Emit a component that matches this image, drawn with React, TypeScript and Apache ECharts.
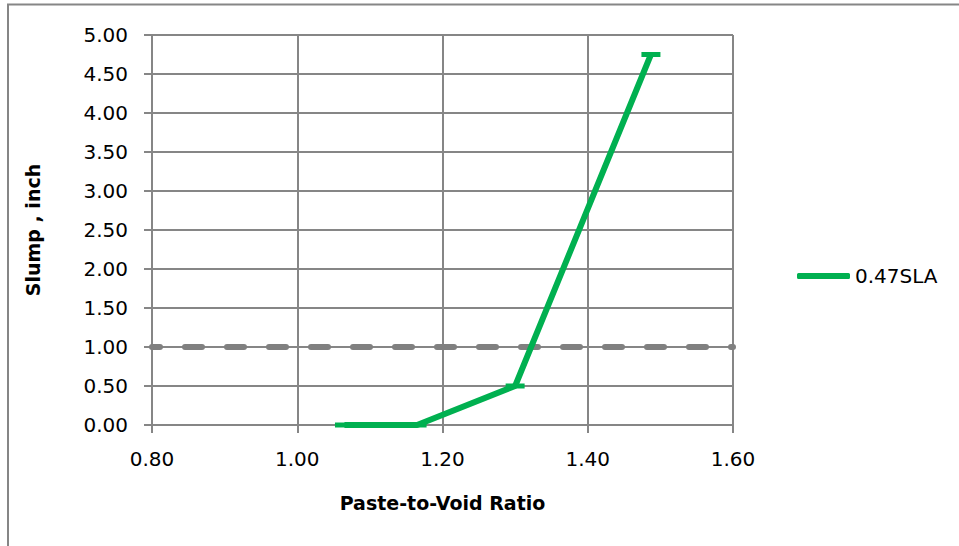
import React, { useEffect, useRef } from "react";
import * as echarts from "echarts";

const ratioX = [1.065, 1.165, 1.3, 1.487];
const slumpY = [0, 0, 0.5, 4.75];
const seriesName = "0.47SLA";
const thresholdX = [0.8, 1.6];
const thresholdY = [1, 1];

const FONT = "'DejaVu Sans', sans-serif";

export default function App() {
  const ref = useRef<HTMLDivElement>(null);
  useEffect(() => {
    const chart = echarts.init(ref.current!, null, { renderer: "svg" });
    chart.setOption({
      animation: false,
      backgroundColor: "#fff",
      textStyle: { fontFamily: FONT },
      grid: { left: 152, top: 35, width: 581, height: 390, containLabel: false },
      legend: {
        left: 792,
        top: 261,
        itemWidth: 53,
        itemHeight: 6,
        itemGap: 4,
        textStyle: { fontSize: 20, color: "#000", fontFamily: FONT },
        data: [{ name: seriesName, icon: "roundRect" }],
      },
      xAxis: {
        type: "value",
        min: 0.8,
        max: 1.6,
        interval: 0.2,
        name: "Paste-to-Void Ratio",
        nameLocation: "middle",
        nameGap: 68,
        nameTextStyle: { fontSize: 19, fontWeight: "bold", color: "#000", fontFamily: FONT },
        axisLine: { show: true, onZero: false, lineStyle: { color: "#868686", width: 2 } },
        axisTick: { show: true, length: 8, lineStyle: { color: "#868686", width: 2 } },
        axisLabel: { fontSize: 20, color: "#000", margin: 24, formatter: (v: number) => v.toFixed(2) },
        splitLine: { show: true, lineStyle: { color: "#868686", width: 2 } },
      },
      yAxis: {
        type: "value",
        min: 0,
        max: 5,
        interval: 0.5,
        name: "Slump , inch",
        nameLocation: "middle",
        nameGap: 110,
        nameTextStyle: { fontSize: 19, fontWeight: "bold", color: "#000", fontFamily: FONT },
        axisLine: { show: true, lineStyle: { color: "#868686", width: 2 } },
        axisTick: { show: true, length: 8, lineStyle: { color: "#868686", width: 2 } },
        axisLabel: { fontSize: 20, color: "#000", margin: 24, formatter: (v: number) => v.toFixed(2) },
        splitLine: { show: true, lineStyle: { color: "#868686", width: 2 } },
      },
      series: [
        {
          name: "threshold",
          type: "line",
          data: thresholdX.map((x, i) => [x, thresholdY[i]]),
          symbol: "none",
          silent: true,
          lineStyle: { color: "#808080", width: 6, type: [17, 25], dashOffset: 9, cap: "round" },
          z: 3,
        },
        {
          name: seriesName,
          type: "line",
          data: ratioX.map((x, i) => [x, slumpY[i]]),
          symbol: "rect",
          symbolSize: [19, 5],
          showSymbol: true,
          itemStyle: { color: "#00B050" },
          lineStyle: { color: "#00B050", width: 6 },
          z: 4,
        },
      ],
      graphic: [
        {
          type: "rect",
          shape: { x: 8, y: 4.5, width: 1200, height: 1200 },
          style: { fill: "none", stroke: "#868686", lineWidth: 2 },
          silent: true,
          z: -1,
        },
      ],
    });
    return () => chart.dispose();
  }, []);
  return (
    <div
      ref={ref}
      style={{ position: "absolute", left: 0, top: 0, width: 959, height: 546 }}
    />
  );
}
